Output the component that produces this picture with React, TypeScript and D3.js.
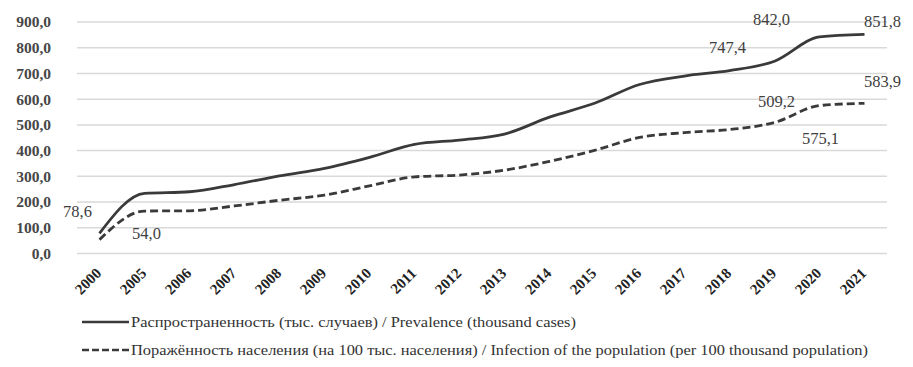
import React from 'react';
import * as d3 from 'd3';

const years = ['2000', '2005', '2006', '2007', '2008', '2009', '2010', '2011', '2012',
  '2013', '2014', '2015', '2016', '2017', '2018', '2019', '2020', '2021'];

const prevalence = [78.6, 234, 240, 268, 302, 331, 374, 424, 441, 464, 530, 584, 657, 690, 711, 747.4, 842.0, 851.8];
const infection = [54.0, 165, 166, 185, 207, 227, 263, 298, 305, 324, 358, 401, 451, 470, 482, 509.2, 575.1, 583.9];

const yTicks = [0, 100, 200, 300, 400, 500, 600, 700, 800, 900];

const legendLabels = [
  'Распространенность (тыс. случаев) / Prevalence (thousand cases)',
  'Поражённость населения (на 100 тыс. населения) / Infection of the population (per 100 thousand population)',
];

// which points get a value label, and where the label sits relative to the point
const prevalenceLabels = [
  { year: '2000', dx: -22, dy: -22 },
  { year: '2019', dx: -47, dy: -14 },
  { year: '2020', dx: -48, dy: -18 },
  { year: '2021', dx: 18, dy: -13 },
];
const infectionLabels = [
  { year: '2000', dx: 47, dy: -6 },
  { year: '2019', dx: 2, dy: -21 },
  { year: '2020', dx: 1, dy: 33 },
  { year: '2021', dx: 18, dy: -22 },
];

const width = 913;
const height = 367;
const margin = { top: 22, right: 26, bottom: 113.5, left: 77 };

const ruLocale = d3.formatLocale({ decimal: ',', thousands: ' ', grouping: [3], currency: ['', ''] });
const fmt = ruLocale.format('.1f');

const serif = 'Liberation Serif';
const ink = '#3a3a3a';

const x = d3.scaleBand()
  .domain(years)
  .range([margin.left, width - margin.right]);

const y = d3.scaleLinear()
  .domain([0, 900])
  .range([height - margin.bottom, margin.top]);

const cx = (yr: string) => (x(yr) as number) + x.bandwidth() / 2;

const line = d3.line<number>()
  .x((d, i) => cx(years[i]))
  .y((d) => y(d))
  .curve(d3.curveMonotoneX);

function ValueLabels({ values, labels }: { values: number[]; labels: { year: string; dx: number; dy: number }[] }) {
  return (
    <g>
      {labels.map((d) => {
        const v = values[years.indexOf(d.year)];
        return (
          <text
            key={d.year}
            x={cx(d.year) + d.dx}
            y={y(v) + d.dy}
            dy="0.35em"
            textAnchor="middle"
            fill="#404040"
            style={{ fontFamily: serif, fontSize: 16.5 }}
          >
            {fmt(v)}
          </text>
        );
      })}
    </g>
  );
}

export default function App() {
  const legendRows = [
    { label: legendLabels[0], dash: undefined, y: 322, len: 445 },
    { label: legendLabels[1], dash: '7,3', y: 350, len: 737 },
  ];

  return (
    <svg
      width={width}
      height={height}
      style={{ position: 'absolute', left: 0, top: 0, display: 'block', background: '#fff' }}
    >
      {/* gridlines */}
      {yTicks.map((t) => (
        <line key={t} x1={margin.left} x2={width - margin.right} y1={y(t)} y2={y(t)} stroke="#d9d9d9" strokeWidth={1.5} />
      ))}

      {/* y tick labels */}
      {yTicks.map((t) => (
        <text
          key={t}
          x={51}
          y={y(t)}
          dy="0.35em"
          textAnchor="end"
          fill="#474747"
          style={{ fontFamily: serif, fontSize: 15.5, fontWeight: 'bold' }}
        >
          {fmt(t)}
        </text>
      ))}

      {/* x tick labels, rotated */}
      {years.map((yr) => (
        <text
          key={yr}
          transform={`translate(${cx(yr) - 1}, ${y(0) + 17}) rotate(-45)`}
          textAnchor="end"
          dy="0.35em"
          fill="#222"
          style={{ fontFamily: serif, fontSize: 15, fontWeight: 'bold' }}
        >
          {yr}
        </text>
      ))}

      <path d={line(prevalence) || ''} fill="none" stroke={ink} strokeWidth={2.8} />
      <path d={line(infection) || ''} fill="none" stroke={ink} strokeWidth={2.8} strokeDasharray="8,4" />

      <ValueLabels values={prevalence} labels={prevalenceLabels} />
      <ValueLabels values={infection} labels={infectionLabels} />

      {/* legend */}
      {legendRows.map((row) => (
        <g key={row.y}>
          <line x1={82} x2={129} y1={row.y} y2={row.y} stroke={ink} strokeWidth={2.6} strokeDasharray={row.dash} />
          <text
            x={131}
            y={row.y}
            dy="0.35em"
            fill="#333"
            textLength={row.len}
            lengthAdjust="spacingAndGlyphs"
            style={{ fontFamily: serif, fontSize: 14 }}
          >
            {row.label}
          </text>
        </g>
      ))}
    </svg>
  );
}
